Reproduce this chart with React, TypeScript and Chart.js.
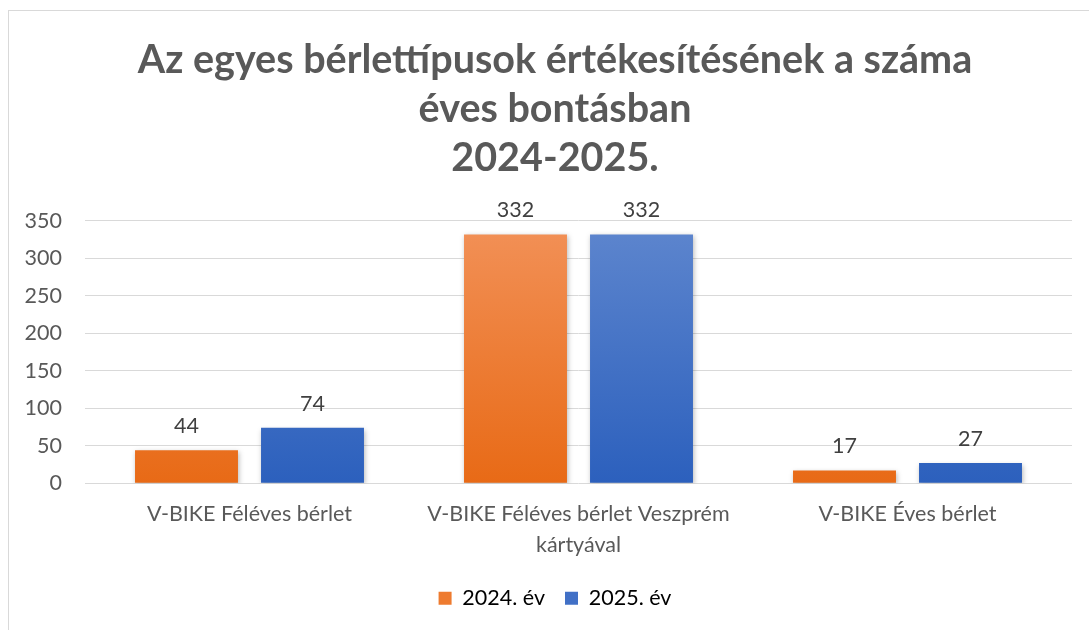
import React, { useEffect, useRef } from "react";
import { Chart, registerables } from "chart.js";

Chart.register(...registerables);

const titleLines = [
  "Az egyes bérlettípusok értékesítésének a száma",
  "éves bontásban",
  "2024-2025.",
];
const categories: (string | string[])[] = [
  "V-BIKE Féléves bérlet",
  ["V-BIKE Féléves bérlet Veszprém", "kártyával"],
  "V-BIKE Éves bérlet",
];
const series2024 = [44, 332, 17];
const series2025 = [74, 332, 27];
const seriesNames = ["2024. év", "2025. év"];
const yTicks = [0, 50, 100, 150, 200, 250, 300, 350];

const FONT = "Lato, 'Noto Sans', sans-serif";

function makeGradient(chart: any, top: string, bottom: string, fallback: string) {
  const area = chart.chartArea;
  if (!area) return fallback;
  const g = chart.ctx.createLinearGradient(0, area.top, 0, area.bottom);
  g.addColorStop(0, top);
  g.addColorStop(1, bottom);
  return g;
}

const shadowPlugin = {
  id: "barShadow",
  beforeDatasetsDraw(chart: any) {
    const ctx = chart.ctx;
    ctx.save();
    ctx.shadowColor = "rgba(0,0,0,0.28)";
    ctx.shadowBlur = 5;
    ctx.shadowOffsetX = 1;
    ctx.shadowOffsetY = 2;
  },
  afterDatasetsDraw(chart: any) {
    chart.ctx.restore();
  },
};

const labelPlugin = {
  id: "valueLabels",
  afterDraw(chart: any) {
    const ctx = chart.ctx;
    ctx.save();
    ctx.font = `21.5px ${FONT}`;
    ctx.fillStyle = "#404040";
    ctx.textAlign = "center";
    ctx.textBaseline = "middle";
    chart.data.datasets.forEach((ds: any, i: number) => {
      const meta = chart.getDatasetMeta(i);
      meta.data.forEach((bar: any, j: number) => {
        ctx.fillText(String(ds.data[j]), bar.x, bar.y - 24);
      });
    });
    ctx.restore();
  },
};

export default function App() {
  const ref = useRef<HTMLCanvasElement>(null);
  useEffect(() => {
    if (!ref.current) return;
    const chart = new Chart(ref.current, {
      type: "bar",
      data: {
        labels: categories,
        datasets: [
          {
            label: seriesNames[0],
            data: series2024,
            backgroundColor: (c: any) =>
              makeGradient(c.chart, "#F29158", "#E86A16", "#ED7D31"),
            barPercentage: 0.817,
            categoryPercentage: 0.766,
          },
          {
            label: seriesNames[1],
            data: series2025,
            backgroundColor: (c: any) =>
              makeGradient(c.chart, "#5E86CE", "#2C60BD", "#4472C4"),
            barPercentage: 0.817,
            categoryPercentage: 0.766,
          },
        ],
      },
      options: {
        animation: false,
        responsive: false,
        devicePixelRatio: 1,
        layout: { padding: { left: 38, right: 17, top: 36, bottom: 11 } },
        plugins: {
          title: {
            display: true,
            text: titleLines,
            color: "#595959",
            font: { family: FONT, size: 39.5, weight: "bold", lineHeight: 1.24 },
            padding: { top: 0, bottom: 38 },
          },
          legend: {
            position: "bottom",
            labels: {
              color: "#595959",
              font: { family: FONT, size: 21.5 },
              boxWidth: 13,
              boxHeight: 13,
              padding: 20,
              generateLabels: () =>
                seriesNames.map((name, i) => ({
                  text: name,
                  fillStyle: i === 0 ? "#EE7B2F" : "#4170C6",
                  strokeStyle: "rgba(0,0,0,0)",
                  lineWidth: 0,
                  datasetIndex: i,
                  hidden: false,
                })),
            },
          },
          tooltip: { enabled: false },
        },
        scales: {
          x: {
            grid: { display: false },
            border: { display: false },
            ticks: {
              color: "#595959",
              font: { family: FONT, size: 21.5, lineHeight: 1.45 },
              padding: 7,
              maxRotation: 0,
            },
          },
          y: {
            min: 0,
            max: 350,
            afterBuildTicks: (scale: any) => {
              scale.ticks = yTicks.map((v) => ({ value: v }));
            },
            afterFit: (scale: any) => {
              scale.width = 47;
              scale._computeLabelArea = () => undefined;
            },
            grid: { color: "#D9D9D9", lineWidth: 1, drawTicks: false },
            border: { display: false },
            ticks: {
              color: "#595959",
              font: { family: FONT, size: 21.5 },
              padding: 23,
            },
          },
        },
      },
      plugins: [shadowPlugin, labelPlugin],
    });
    return () => chart.destroy();
  }, []);
  return (
    <div
      style={{
        position: "fixed",
        left: 0,
        top: 0,
        width: 1089,
        height: 630,
        background: "#fff",
        overflow: "hidden",
      }}
    >
      <div
        style={{
          position: "absolute",
          left: 8,
          top: 10,
          width: 1200,
          height: 800,
          border: "1px solid #D9D9D9",
        }}
      />
      <canvas
        ref={ref}
        width={1089}
        height={630}
        style={{ position: "absolute", left: 0, top: 0, width: 1089, height: 630 }}
      />
    </div>
  );
}
